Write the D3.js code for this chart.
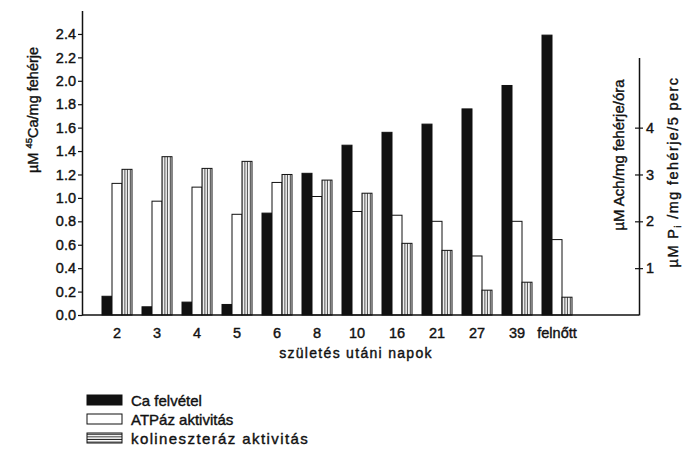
<!DOCTYPE html>
<html>
<head>
<meta charset="utf-8">
<script src="https://cdn.jsdelivr.net/npm/d3@7/dist/d3.min.js"></script>
<style>
  html, body { margin: 0; padding: 0; background: #fff; }
  svg text { font-family: "Liberation Sans", Arial, sans-serif; fill: #111; stroke: #111; stroke-width: 0.4px; }
</style>
</head>
<body>
<svg id="chart" width="683" height="456"></svg>
<script>
// Age groups (days after birth) and the three measured series
const categories = ["2", "3", "4", "5", "6", "8", "10", "16", "21", "27", "39", "felnőtt"];
// 45Ca uptake, µM 45Ca / mg protein (left axis)
const caUptake = [0.16, 0.07, 0.11, 0.09, 0.87, 1.21, 1.45, 1.56, 1.63, 1.76, 1.96, 2.39];
// ATPase activity, µM Pi / mg protein / 5 min (right axis)
const atpase = [2.81, 2.43, 2.73, 2.15, 2.83, 2.53, 2.21, 2.13, 2.00, 1.26, 2.00, 1.61];
// Cholinesterase activity, µM Ach / mg protein / hour (right axis)
const cholinesterase = [3.11, 3.38, 3.13, 3.28, 3.00, 2.88, 2.60, 1.53, 1.38, 0.53, 0.70, 0.38];

const leftTicks = [0, 0.2, 0.4, 0.6, 0.8, 1.0, 1.2, 1.4, 1.6, 1.8, 2.0, 2.2, 2.4];
const rightTicks = [1, 2, 3, 4];
const seriesKeys = ["ca", "atp", "chol"];
const legendItems = [
  { key: "ca", label: "Ca felvétel", spacing: 0 },
  { key: "atp", label: "ATPáz aktivitás", spacing: 0 },
  { key: "chol", label: "kolineszteráz aktivitás", spacing: 1.4 }
];

const svg = d3.select("#chart");
const defs = svg.append("defs");

// vertical hatching for bars, horizontal for the legend swatch
defs.append("pattern").attr("id", "hatchV").attr("patternUnits", "userSpaceOnUse")
  .attr("width", 2.7).attr("height", 10)
  .append("line").attr("x1", 1.2).attr("x2", 1.2).attr("y1", 0).attr("y2", 10)
  .attr("stroke", "#111").attr("stroke-width", 0.9);
defs.append("pattern").attr("id", "hatchH").attr("patternUnits", "userSpaceOnUse")
  .attr("width", 10).attr("height", 2.6)
  .append("line").attr("x1", 0).attr("x2", 10).attr("y1", 1.2).attr("y2", 1.2)
  .attr("stroke", "#111").attr("stroke-width", 0.9);

const axisLeftX = 82, axisRightX = 639, baseY = 315;
const pxPerUnit = 117.1;

const yL = d3.scaleLinear().domain([0, 2.6]).range([baseY, baseY - 2.6 * pxPerUnit]);
const yR = d3.scaleLinear().domain([0, 5.5]).range([baseY, baseY - 5.5 * pxPerUnit / 2.5]);

const x = d3.scaleBand().domain(categories).range([97, 577])
  .paddingInner(0.25).paddingOuter(0.125);
const x1 = d3.scaleBand().domain(seriesKeys).range([0, x.bandwidth()]);

// bars
const rows = categories.map((c, i) => ({
  cat: c,
  vals: [
    { key: "ca", y: yL(caUptake[i]) },
    { key: "atp", y: yR(atpase[i]) },
    { key: "chol", y: yR(cholinesterase[i]) }
  ]
}));

const groups = svg.append("g").selectAll("g").data(rows).join("g")
  .attr("transform", d => `translate(${x(d.cat)},0)`);
groups.selectAll("rect").data(d => d.vals).join("rect")
  .attr("x", d => x1(d.key))
  .attr("y", d => d.y)
  .attr("width", x1.bandwidth())
  .attr("height", d => baseY - d.y)
  .attr("fill", d => d.key === "ca" ? "#111" : "#fff")
  .attr("stroke", "#111").attr("stroke-width", 1);
groups.selectAll("rect.h").data(d => d.vals.filter(v => v.key === "chol")).join("rect")
  .attr("class", "h")
  .attr("x", d => x1(d.key) + 0.5)
  .attr("y", d => d.y)
  .attr("width", x1.bandwidth() - 1)
  .attr("height", d => baseY - d.y)
  .attr("fill", "url(#hatchV)");

// baseline
svg.append("line").attr("x1", axisLeftX).attr("x2", axisRightX)
  .attr("y1", baseY).attr("y2", baseY).attr("stroke", "#111").attr("stroke-width", 1.5);

// left axis
const gL = svg.append("g").attr("transform", `translate(${axisLeftX},0)`)
  .call(d3.axisLeft(yL).tickValues(leftTicks).tickFormat(d3.format(".1f"))
    .tickSizeInner(4).tickSizeOuter(0).tickPadding(2));
gL.select(".domain").attr("stroke", "#111").attr("stroke-width", 1.5);
gL.selectAll(".tick line").attr("stroke", "#111").attr("stroke-width", 1.2);
gL.selectAll(".tick text").attr("font-size", 14.5).attr("font-family", null).attr("fill", "#111");

// right axis with ticks crossing the line
const gR = svg.append("g").attr("transform", `translate(${axisRightX},0)`)
  .call(d3.axisRight(yR).tickValues(rightTicks).tickFormat(d3.format("d"))
    .tickSizeInner(4).tickSizeOuter(0).tickPadding(3));
gR.select(".domain").attr("stroke", "#111").attr("stroke-width", 1.5);
gR.selectAll(".tick line").attr("x1", -4).attr("stroke", "#111").attr("stroke-width", 1.2);
gR.selectAll(".tick text").attr("font-size", 14.5).attr("font-family", null).attr("fill", "#111");

// category labels
svg.append("g").selectAll("text").data(categories).join("text")
  .attr("x", d => x(d) + x.bandwidth() / 2)
  .attr("y", 338)
  .attr("text-anchor", "middle")
  .attr("font-size", 14.5)
  .text(d => d);

svg.append("text").attr("x", 356).attr("y", 358).attr("text-anchor", "middle")
  .attr("font-size", 14).attr("letter-spacing", 1.3).text("születés utáni napok");

// left axis title
const tL = svg.append("text").attr("transform", "translate(38,110) rotate(-90)")
  .attr("text-anchor", "middle").attr("font-size", 14.5);
tL.append("tspan").text("µM ");
tL.append("tspan").attr("font-size", 9.5).attr("dy", -6).text("45");
tL.append("tspan").attr("dy", 6).text("Ca/mg fehérje");

// right axis titles
svg.append("text").attr("transform", "translate(624,155) rotate(-90)")
  .attr("text-anchor", "middle").attr("font-size", 15).text("µM Ach/mg fehérje/óra");
const tR = svg.append("text").attr("transform", "translate(678,172) rotate(-90)")
  .attr("text-anchor", "middle").attr("font-size", 14.5).attr("letter-spacing", 1.4);
tR.append("tspan").text("µM P");
tR.append("tspan").attr("font-size", 9.5).attr("dy", 3).text("i");
tR.append("tspan").attr("dy", -3).text(" /mg fehérje/5 perc");

// legend
const lg = svg.append("g").selectAll("g").data(legendItems).join("g")
  .attr("transform", (d, i) => `translate(87,${395 + i * 19})`);
lg.append("rect").attr("width", 35).attr("height", 10)
  .attr("fill", d => d.key === "ca" ? "#111" : d.key === "atp" ? "#fff" : "url(#hatchH)")
  .attr("stroke", "#111").attr("stroke-width", 1);
lg.append("text").attr("x", 44).attr("y", 10.5).attr("font-size", 15)
  .attr("letter-spacing", d => d.spacing).text(d => d.label);
</script>
</body>
</html>
